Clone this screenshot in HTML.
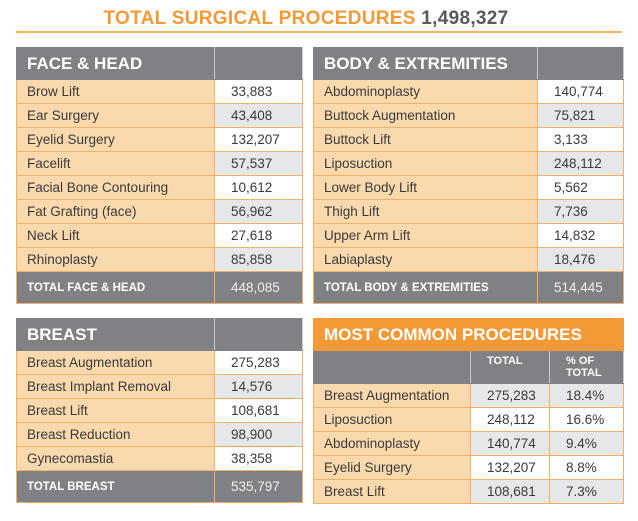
<!DOCTYPE html>
<html><head><meta charset="utf-8"><style>
body{margin:0;width:638px;height:521px;background:#fff;font-family:"Liberation Sans",sans-serif;position:relative;overflow:hidden}
.title{position:absolute;left:0;width:612px;top:8px;text-align:center;font-weight:bold;font-size:19px;color:#F39A37;letter-spacing:0.3px}
.title b{color:#58595B}
.rule{position:absolute;left:16px;width:606px;top:31px;height:2px;background:#F7B05E}
table{position:absolute;border-collapse:collapse;table-layout:fixed}
td{padding:0 0 0 10px;font-size:13.5px;color:#3a3a3a;border:1px solid #F5B065;height:23px;white-space:nowrap;overflow:hidden}
td.n{background:#FAD9AE}
td.v{background:#fff;padding-left:16px}
td.g{background:#E6E7E8}
tr.h td{background:#808184;color:#fff;font-weight:bold;font-size:17px;height:31px;border-color:#808184;border-right-color:#ccc}
tr.t td{background:#808184;color:#fff;font-weight:bold;font-size:11.5px;height:31px;border-color:#F5B065}
tr.t td.v{font-weight:normal;font-size:13.5px;color:#eee}
tr.o td{background:#F39A37;color:#fff;font-weight:bold;font-size:17px;height:31px;border-color:#F39A37}
tr.s td{background:#808184;color:#fff;font-weight:bold;font-size:11px;height:28px;line-height:12px;vertical-align:top;padding-top:4px;border-color:#808184;border-right-color:#ccc}
</style></head><body>
<div class="title">TOTAL SURGICAL PROCEDURES <b>1,498,327</b></div>
<div class="rule"></div>

<table style="left:16px;top:47px;width:286px">
<col style="width:198px"><col style="width:88px">
<tr class="h"><td>FACE &amp; HEAD</td><td></td></tr>
<tr><td class="n">Brow Lift</td><td class="v">33,883</td></tr>
<tr><td class="n">Ear Surgery</td><td class="v g">43,408</td></tr>
<tr><td class="n">Eyelid Surgery</td><td class="v">132,207</td></tr>
<tr><td class="n">Facelift</td><td class="v g">57,537</td></tr>
<tr><td class="n">Facial Bone Contouring</td><td class="v">10,612</td></tr>
<tr><td class="n">Fat Grafting (face)</td><td class="v g">56,962</td></tr>
<tr><td class="n">Neck Lift</td><td class="v">27,618</td></tr>
<tr><td class="n">Rhinoplasty</td><td class="v g">85,858</td></tr>
<tr class="t"><td>TOTAL FACE &amp; HEAD</td><td class="v">448,085</td></tr>
</table>

<table style="left:313px;top:47px;width:310px">
<col style="width:224px"><col style="width:86px">
<tr class="h"><td>BODY &amp; EXTREMITIES</td><td></td></tr>
<tr><td class="n">Abdominoplasty</td><td class="v">140,774</td></tr>
<tr><td class="n">Buttock Augmentation</td><td class="v g">75,821</td></tr>
<tr><td class="n">Buttock Lift</td><td class="v">3,133</td></tr>
<tr><td class="n">Liposuction</td><td class="v g">248,112</td></tr>
<tr><td class="n">Lower Body Lift</td><td class="v">5,562</td></tr>
<tr><td class="n">Thigh Lift</td><td class="v g">7,736</td></tr>
<tr><td class="n">Upper Arm Lift</td><td class="v">14,832</td></tr>
<tr><td class="n">Labiaplasty</td><td class="v g">18,476</td></tr>
<tr class="t"><td>TOTAL BODY &amp; EXTREMITIES</td><td class="v">514,445</td></tr>
</table>

<table style="left:16px;top:318px;width:286px">
<col style="width:198px"><col style="width:88px">
<tr class="h"><td>BREAST</td><td></td></tr>
<tr><td class="n">Breast Augmentation</td><td class="v">275,283</td></tr>
<tr><td class="n">Breast Implant Removal</td><td class="v g">14,576</td></tr>
<tr><td class="n">Breast Lift</td><td class="v">108,681</td></tr>
<tr><td class="n">Breast Reduction</td><td class="v g">98,900</td></tr>
<tr><td class="n">Gynecomastia</td><td class="v">38,358</td></tr>
<tr class="t"><td>TOTAL BREAST</td><td class="v">535,797</td></tr>
</table>

<table style="left:313px;top:318px;width:310px">
<col style="width:157px"><col style="width:79px"><col style="width:74px">
<tr class="o"><td colspan="3">MOST COMMON PROCEDURES</td></tr>
<tr class="s"><td></td><td style="padding-left:16px">TOTAL</td><td style="padding-left:16px">% OF<br>TOTAL</td></tr>
<tr><td class="n">Breast Augmentation</td><td class="v g">275,283</td><td class="v g">18.4%</td></tr>
<tr><td class="n">Liposuction</td><td class="v">248,112</td><td class="v">16.6%</td></tr>
<tr><td class="n">Abdominoplasty</td><td class="v g">140,774</td><td class="v g">9.4%</td></tr>
<tr><td class="n">Eyelid Surgery</td><td class="v">132,207</td><td class="v">8.8%</td></tr>
<tr><td class="n">Breast Lift</td><td class="v g">108,681</td><td class="v g">7.3%</td></tr>
</table>
</body></html>
